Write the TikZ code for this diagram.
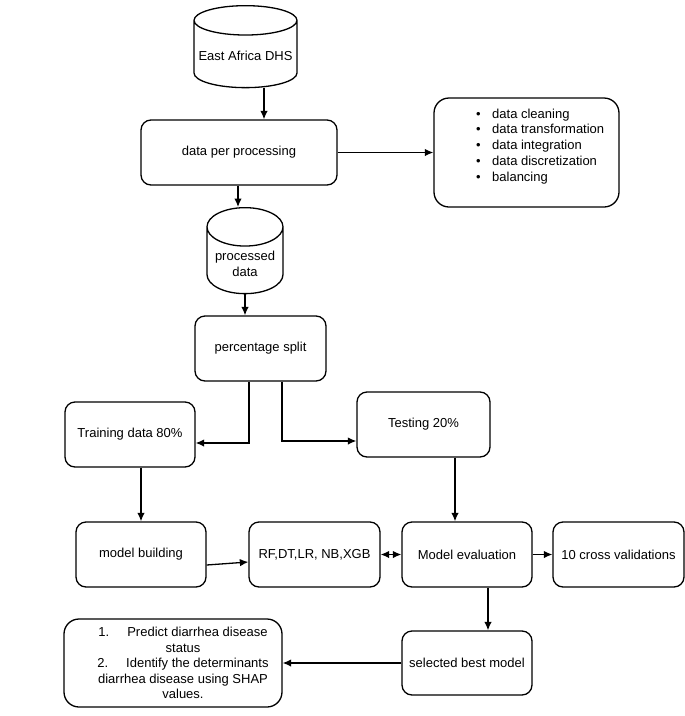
\documentclass[tikz,border=0pt]{standalone}
\usepackage{fontspec}
\setmainfont{Liberation Sans}
\usetikzlibrary{positioning,arrows.meta,calc,shapes.geometric}
\tikzset{every picture/.style={>={Latex[length=8.5pt,width=7.5pt]},line width=1.3pt}}
\tikzset{box/.style={draw,rounded corners=10pt,minimum width=130pt,minimum height=65pt,align=center,inner sep=2pt}}
\tikzset{bigbox/.style={box,rounded corners=15pt}}
\tikzset{store/.style={draw,cylinder,shape border rotate=90,align=center,inner sep=2pt}}

\begin{document}
\begin{tikzpicture}[x=1pt,y=-1pt,font=\fontsize{13}{15.5}\selectfont]
      \useasboundingbox (0,0) rectangle (685,716);
      \node[store,aspect=0.3,minimum width=103pt,minimum height=82pt,anchor=north] (dhs) at (245.5,5) {East Africa DHS};
      \node[box,minimum width=196pt] (dpp) at (239,152.5) {data per processing};
      \node[bigbox,minimum width=185pt,minimum height=109pt] (steps) at (526.5,152.5) {};
      \node[anchor=north west,align=left,inner sep=0pt,font=\fontsize{13}{15.8}\selectfont] (stepslist) at (475.5,108) {\textbullet\hspace{11.5pt}data cleaning\\ \textbullet\hspace{11.5pt}data transformation\\ \textbullet\hspace{11.5pt}data integration\\ \textbullet\hspace{11.5pt}data discretization\\ \textbullet\hspace{11.5pt}balancing};
      \node[store,aspect=0.6,minimum width=76pt,minimum height=86pt,anchor=north] (proc) at (245,207) {processed\\data};
      \node[box,minimum width=131pt] (split) at (260.5,348.5) {percentage split};
      \node[box] (train) at (130,434.5) {Training data 80\%};
      \node[box,minimum width=133pt] (test) at (423.5,424.5) {Testing 20\%};
      \node[box] (mb) at (141,554.5) {model building};
      \node[box,minimum width=131pt] (rf) at (314.5,554.5) {RF,DT,LR, NB,XGB};
      \node[box] (eval) at (467,554.5) {Model evaluation};
      \node[box,minimum width=131pt] (cross) at (618.5,554.5) {10 cross validations};
      \node[box,minimum height=64pt] (best) at (467,663) {selected best model};
      \node[bigbox,minimum width=218pt,minimum height=88pt] (outcome) at (173,663) {};
      \node[align=center,inner sep=0pt] (outcometext) at (183,663) {1.\hspace{18pt}Predict diarrhea disease\\ status\\ 2.\hspace{18pt}Identify the determinants\\ diarrhea disease using SHAP\\ values.};
      \draw[->] ([xshift=18.5pt]dhs.south) -- ([xshift=18.5pt]dhs.south |- dpp.north);
      \draw[->] (dpp.east) -- (steps.west);
      \draw[->] ([xshift=-1pt]dpp.south) -- ([xshift=-1pt]dpp.south |- proc.north);
      \draw[->] (proc.south) -- (proc.south |- split.north);
      \draw[->] ([xshift=-11.5pt]split.south) |- ([yshift=-8.5pt]train.east);
      \draw[->] ([xshift=21.5pt]split.south) |- ([yshift=-16.5pt]test.west);
      \draw[->] (train.south -| mb.north) -- (mb.north);
      \draw[->] ([xshift=-12pt]eval.north |- test.south) -- ([xshift=-12pt]eval.north);
      \draw[->] ([yshift=-10.5pt]mb.east) -- ([yshift=-7.5pt]rf.west);
      \draw[<->] (rf.east) -- (eval.west);
      \draw[->] (eval.east) -- (cross.west);
      \draw[->] ([xshift=21pt]eval.south) -- ([xshift=21pt]eval.south |- best.north);
      \draw[->] (best.west) -- (outcome.east);
    \end{tikzpicture}
\end{document}
